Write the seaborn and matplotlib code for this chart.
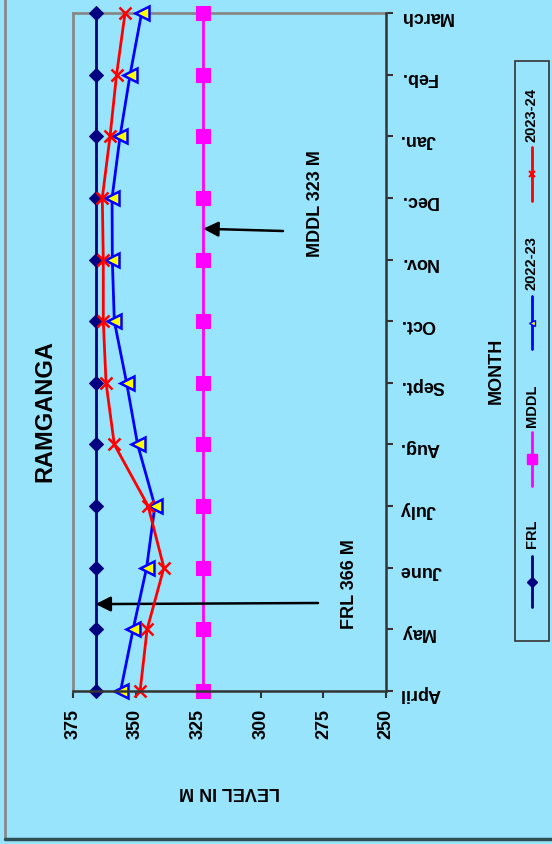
import matplotlib
matplotlib.use("Agg")
import matplotlib.pyplot as plt
from matplotlib.lines import Line2D
from matplotlib.patches import Rectangle
import seaborn as sns

months = ['April', 'May', 'June', 'July', 'Aug.', 'Sept.', 'Oct.', 'Nov.',
          'Dec.', 'Jan.', 'Feb.', 'March']
frl = [366, 366, 366, 366, 366, 366, 366, 366, 366, 366, 366, 366]
mddl = [323, 323, 323, 323, 323, 323, 323, 323, 323, 323, 323, 323]
y2022_23 = [356.0, 351.0, 345.6, 342.3, 349.2, 353.6, 358.5, 359.3, 359.4, 356.2, 352.2, 347.6]
y2023_24 = [348.2, 345.4, 338.7, 345.0, 358.5, 361.8, 362.9, 362.9, 363.3, 360.2, 357.6, 354.2]
level_ticks = [375, 350, 325, 300, 275, 250]
legend_labels = ['FRL', 'MDDL', '2022-23', '2023-24']

sns.set_style("white")
plt.rcParams['font.family'] = ['Liberation Sans', 'DejaVu Sans']
plt.rcParams['font.weight'] = 'bold'
plt.rcParams['text.color'] = 'black'

BG = '#99E4FD'
W, H = 552, 845

fig = plt.figure(figsize=(W / 100, H / 100), dpi=100, facecolor=BG)
ax = fig.add_axes([73 / W, 1 - 692 / H, 313 / W, 678 / H])
ax.set_facecolor(BG)

pos = list(range(len(months)))

sns.lineplot(x=frl, y=pos, orient='y', sort=False, estimator=None, ax=ax,
             color='#000080', lw=2, marker='D', markersize=7.5,
             markeredgecolor='#000080', markerfacecolor='#000080', clip_on=False, zorder=3)
sns.lineplot(x=mddl, y=pos, orient='y', sort=False, estimator=None, ax=ax,
             color='#FF00FF', lw=2, marker='s', markersize=10.5,
             markeredgecolor='#FF00FF', markerfacecolor='#FF00FF', clip_on=False, zorder=3)
sns.lineplot(x=y2022_23, y=pos, orient='y', sort=False, estimator=None, ax=ax,
             color='#0000FF', lw=2, marker='<', markersize=10,
             markeredgecolor='#0000FF', markerfacecolor='#FFFF00', markeredgewidth=1.8,
             clip_on=False, zorder=4)
sns.lineplot(x=y2023_24, y=pos, orient='y', sort=False, estimator=None, ax=ax,
             color='#FF0000', lw=2, marker='x', markersize=9,
             markeredgecolor='#FF0000', markeredgewidth=1.8, clip_on=False, zorder=5)

ax.set_xlim(375, 250)
ax.set_ylim(0, len(months) - 1)
ax.set_xticks(level_ticks)
ax.set_xticklabels([str(t) for t in level_ticks], rotation=90, fontsize=13, fontweight='bold')
ax.set_yticks(pos)
ax.yaxis.tick_right()
ax.set_yticklabels(months, rotation=180, fontsize=13, fontweight='bold')
ax.tick_params(axis='x', direction='out', length=5, width=1.5, color='#333333', pad=7,
               bottom=True, labelcolor='black')
ax.tick_params(axis='y', direction='out', length=5, width=1.5, color='#333333', pad=5,
               right=True, left=False, labelcolor='black')
ax.set_xlabel('')
ax.set_ylabel('')
for s in ['left', 'top']:
    ax.spines[s].set_color('#888888')
    ax.spines[s].set_linewidth(2)
for s in ['right', 'bottom']:
    ax.spines[s].set_color('#333333')
    ax.spines[s].set_linewidth(1.8)
    ax.spines[s].set_zorder(6)

# outer border lines
fig.add_artist(Line2D([5 / W, 5 / W], [5 / H, 1.0], transform=fig.transFigure,
                      color='#888888', lw=2))
fig.add_artist(Line2D([5 / W, 1.0], [5 / H, 5 / H], transform=fig.transFigure,
                      color='#2F4F55', lw=2.5))

# texts
fig.text(45 / W, 1 - 411 / H, 'RAMGANGA', rotation=90, fontsize=17, fontweight='bold',
         ha='center', va='center')
fig.text(230 / W, 1 - 792 / H, 'LEVEL IN M', rotation=180, fontsize=13, fontweight='bold',
         ha='center', va='center')
fig.text(496 / W, 1 - 371 / H, 'MONTH', rotation=90, fontsize=13, fontweight='bold',
         ha='center', va='center')
fig.text(350 / W, 1 - 584 / H, 'FRL 366 M', rotation=90, fontsize=13, fontweight='bold',
         ha='center', va='center')
fig.text(315 / W, 1 - 204 / H, 'MDDL 323 M', rotation=90, fontsize=13, fontweight='bold',
         ha='center', va='center')

# arrows
ax.annotate('', xy=(frl[1], 1.41), xycoords='data',
            xytext=(318 / W, 1 - 604 / H), textcoords='figure fraction',
            arrowprops=dict(arrowstyle='-|>,head_length=0.9,head_width=0.45', color='black',
                            lw=1.8, shrinkA=0, shrinkB=0), annotation_clip=False)
ax.annotate('', xy=(mddl[8], 7.5), xycoords='data',
            xytext=(283 / W, 1 - 232 / H), textcoords='figure fraction',
            arrowprops=dict(arrowstyle='-|>,head_length=0.9,head_width=0.45', color='black',
                            lw=1.8, shrinkA=0, shrinkB=0), annotation_clip=False)

# legend (rotated, drawn manually)
fig.add_artist(Rectangle((515 / W, 1 - 642 / H), 34 / W, 580 / H, transform=fig.transFigure,
                         facecolor='none', edgecolor='#333333', lw=1.2))
lx = 532 / W
leg_styles = [
    dict(color='#000080', marker='D', markersize=5.5, markerfacecolor='#000080', markeredgecolor='#000080'),
    dict(color='#FF00FF', marker='s', markersize=7, markerfacecolor='#FF00FF', markeredgecolor='#FF00FF'),
    dict(color='#0000FF', marker='<', markersize=5, markerfacecolor='#FFFF00', markeredgecolor='#0000FF'),
    dict(color='#FF0000', marker='x', markersize=5, markeredgecolor='#FF0000', markeredgewidth=1.5),
]
seg = [(557, 608), (433, 487), (297, 350), (148, 202)]
lab = [534, 406, 263, 115]
for (y0, y1), ly, style, text in zip(seg, lab, leg_styles, legend_labels):
    fig.add_artist(Line2D([lx, lx], [1 - y1 / H, 1 - y0 / H], transform=fig.transFigure,
                          lw=2, markevery=[], **style))
    fig.add_artist(Line2D([lx], [1 - (y0 + y1) / 2 / H], transform=fig.transFigure,
                          lw=0, **style))
    fig.text(lx, 1 - ly / H, text, rotation=90, fontsize=10.5, fontweight='bold',
             ha='center', va='center')

fig.savefig('out.png', dpi=100, facecolor=BG)
